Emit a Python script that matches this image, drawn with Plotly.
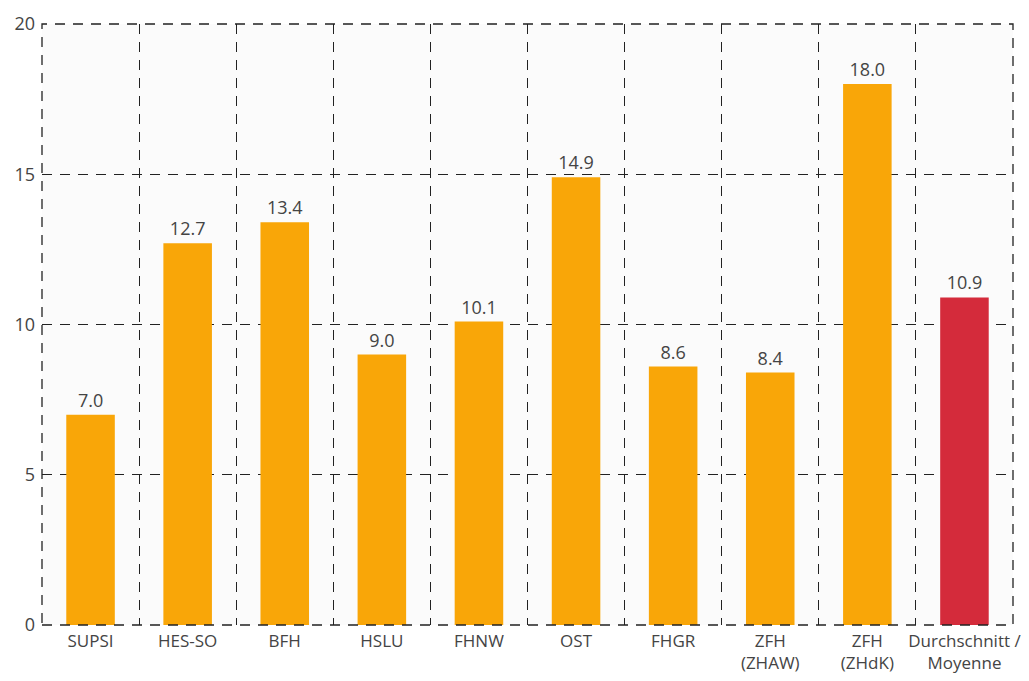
import plotly.graph_objects as go

categories = ["SUPSI", "HES-SO", "BFH", "HSLU", "FHNW", "OST", "FHGR",
              "ZFH<br>(ZHAW)", "ZFH<br>(ZHdK)", "Durchschnitt /<br>Moyenne"]
values = [7.0, 12.7, 13.4, 9.0, 10.1, 14.9, 8.6, 8.4, 18.0, 10.9]
colors = ["#F9A608"] * 9 + ["#D42B3B"]
y_ticks = [0, 5, 10, 15, 20]

fig = go.Figure(go.Bar(
    x=categories, y=values, marker_color=colors, marker_line_width=0,
    width=0.5, text=[f"{v:.1f}" for v in values], textposition="outside",
    textfont=dict(size=18, color="#444"), cliponaxis=False,
))

fig.update_layout(
    width=1013, height=665,
    margin=dict(l=34, r=8, t=16, b=48, autoexpand=False),
    paper_bgcolor="white", plot_bgcolor="#FBFBFB",
    font=dict(family="Open Sans", color="#444"),
    showlegend=False,
    shapes=[dict(type="rect", xref="paper", yref="paper", x0=0, x1=1, y0=0, y1=1,
                 line=dict(color="#222", width=1.3, dash="10px,8px"), layer="above")],
)
fig.update_xaxes(
    type="category", tickson="boundaries", showgrid=True,
    gridcolor="#222", gridwidth=1.3, griddash="10px,8px",
    ticks="", tickangle=0, automargin=False, tickfont=dict(size=17, color="#444"),
    ticklabelstandoff=4,
    showline=False, zeroline=False, range=[-0.5, 9.5],
)
fig.update_yaxes(
    range=[0, 20], tickvals=y_ticks, showgrid=True, automargin=False,
    gridcolor="#222", gridwidth=1.3, griddash="10px,8px", ticklabelstandoff=6,
    zeroline=False, tickfont=dict(size=18, color="#444"), ticks="",
)
fig.write_html("out.html")
